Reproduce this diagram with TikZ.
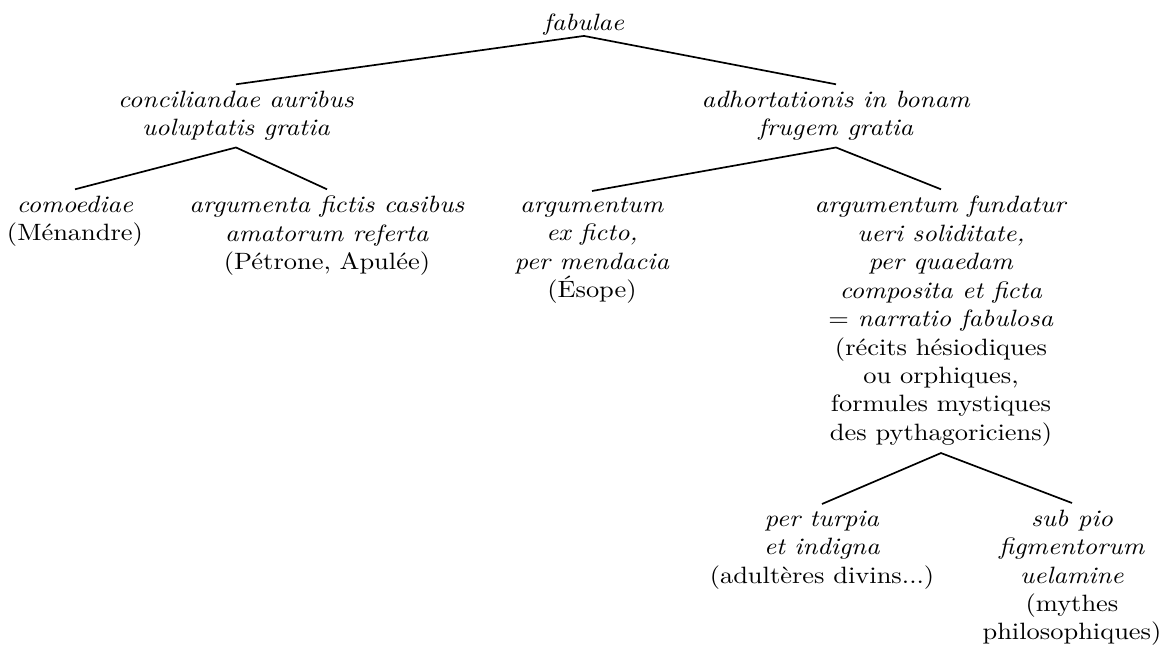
\documentclass[tikz,border=0pt]{standalone}
\usepackage{fontspec}
\setmainfont{lmroman10-regular.otf}[ItalicFont=lmroman10-italic.otf, FakeStretch=1.12]
\begin{document}
\begin{tikzpicture}[x=0.4743pt,y=-0.4743pt,
  lbl/.style={align=center, anchor=north, inner xsep=2pt, inner ysep=3pt,
    font=\fontsize{11.2}{13.5}\selectfont},
  edge/.style={line width=0.8pt}]
\useasboundingbox (0,0) rectangle (1164,648);
\node[lbl, inner ysep=0pt] (root) at (584,13.6) {\textit{fabulae}};
\node[lbl] (a) at (236,84.3) {\textit{conciliandae auribus}\\\textit{uoluptatis gratia}};
\node[lbl] (b) at (836,84.3) {\textit{adhortationis in bonam}\\\textit{frugem gratia}};
\node[lbl] (a1) at (75,189.3) {\textit{comoediae}\\(Ménandre)};
\node[lbl] (a2) at (327,189.3) {\textit{argumenta fictis casibus}\\\textit{amatorum referta}\\(Pétrone, Apulée)};
\node[lbl] (b1) at (592,191) {\textit{argumentum}\\\textit{ex ficto,}\\\textit{per mendacia}\\(Ésope)};
\node[lbl] (b2) at (941,189.3) {\textit{argumentum fundatur}\\\textit{ueri soliditate,}\\\textit{per quaedam}\\\textit{composita et ficta}\\= \textit{narratio fabulosa}\\(récits hésiodiques\\ou orphiques,\\formules mystiques\\des pythagoriciens)};
\node[lbl] (c1) at (822,504) {\textit{per turpia}\\\textit{et indigna}\\(adultères divins...)};
\node[lbl] (c2) at (1072,503) {\textit{sub pio}\\\textit{figmentorum}\\\textit{uelamine}\\(mythes\\philosophiques)};
\draw[edge] (a.north) -- (root.south) -- (b.north);
\draw[edge] (a1.north) -- (a.south) -- (a2.north);
\draw[edge] (b1.north) -- (b.south) -- (b2.north);
\draw[edge] (c1.north) -- (b2.south) -- (c2.north);
\end{tikzpicture}
\end{document}
